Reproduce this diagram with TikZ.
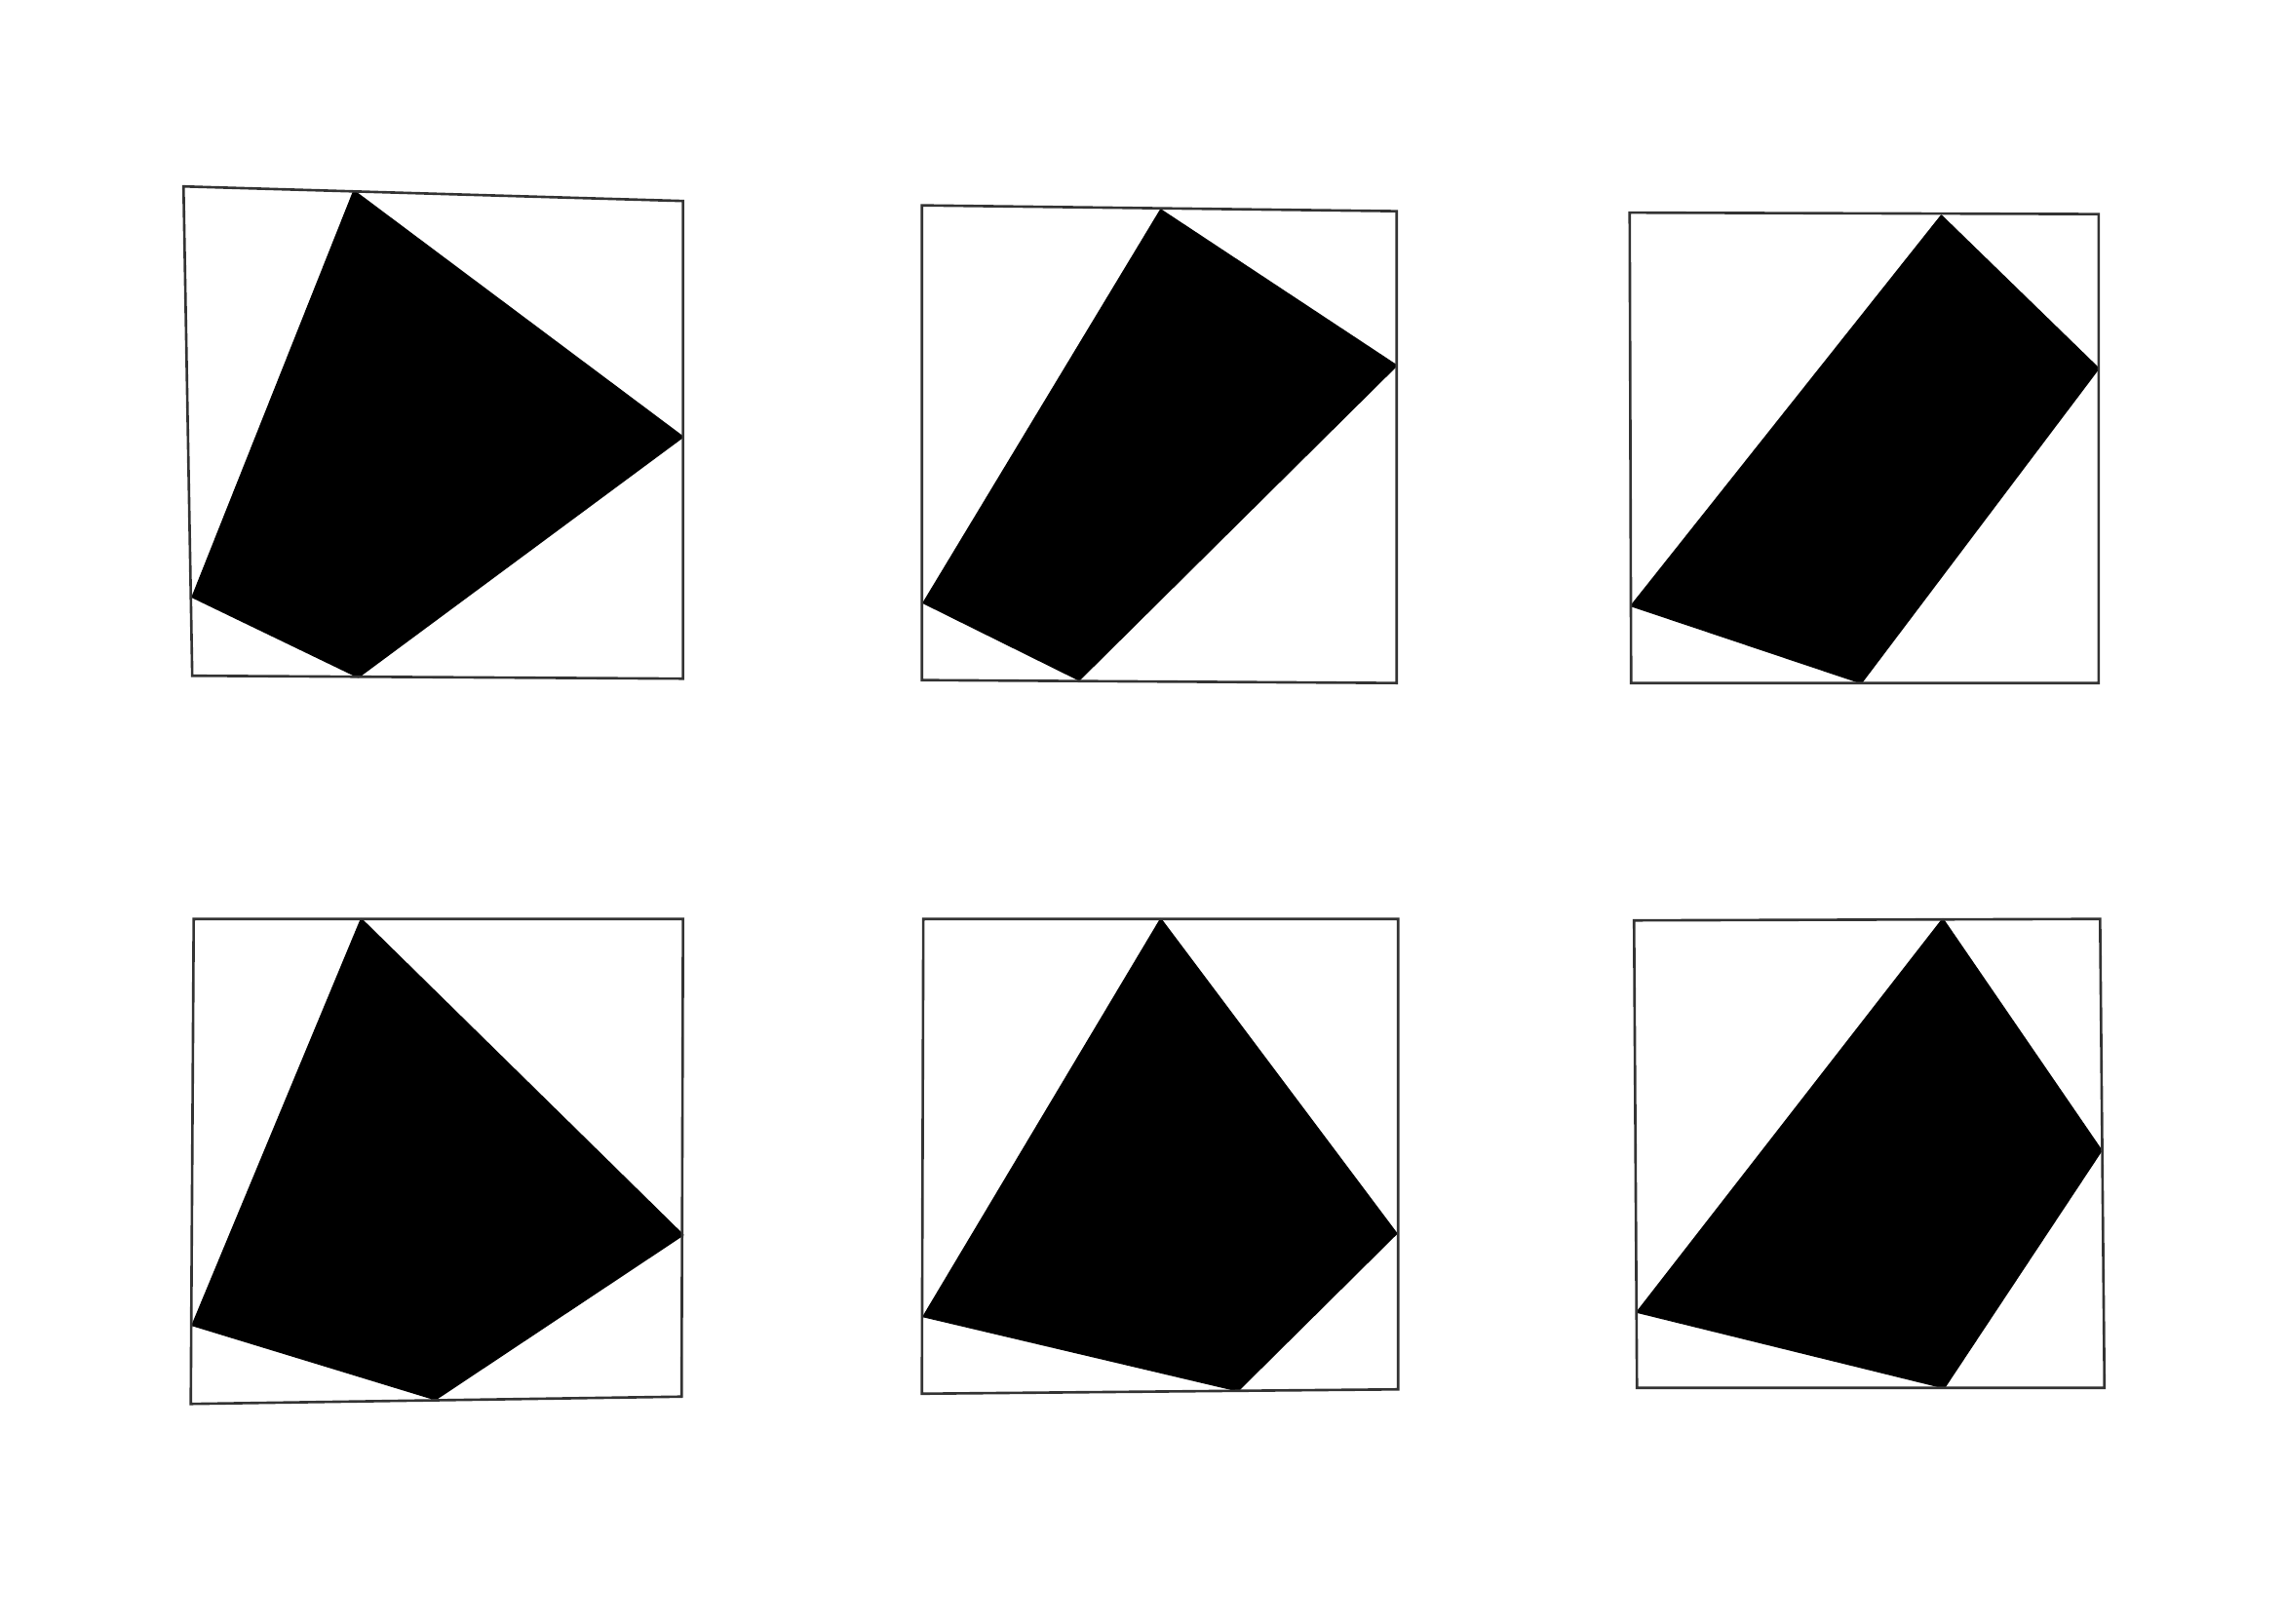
\documentclass[tikz,border=0pt]{standalone}
\begin{document}
\begin{tikzpicture}[x=0.01cm,y=-0.01cm,
  frame/.style={draw=black!80,line width=0.5pt,line join=miter},
  blackpoly/.style={fill=black,draw=black,line width=0.3pt,line join=round}]
\useasboundingbox[fill=white] (0,0) rectangle (1568.3,1114.5);
% box 1
\fill[blackpoly] (243,131) -- (469,300) -- (246,465) -- (132,410) -- cycle;
\draw[frame] (126,128) -- (469,138) -- (469,466) -- (132,464) -- cycle;
% box 2
\fill[blackpoly] (797,144) -- (959,251) -- (741,467) -- (634,414) -- cycle;
\draw[frame] (633,141) -- (959,145) -- (959,469) -- (633,467) -- cycle;
% box 3
\fill[blackpoly] (1333,148) -- (1441,253) -- (1278,469) -- (1120,416) -- cycle;
\draw[frame] (1119,146) -- (1441,147) -- (1441,469) -- (1120,469) -- cycle;
% box 4
\fill[blackpoly] (248,631) -- (469,848) -- (299,961) -- (132,910) -- cycle;
\draw[frame] (133,631) -- (469,631) -- (468,959) -- (131,964) -- cycle;
% box 5
\fill[blackpoly] (797,631) -- (959,847) -- (850,955) -- (634,904) -- cycle;
\draw[frame] (634,631) -- (960,631) -- (960,954) -- (633,957) -- cycle;
% box 6
\fill[blackpoly] (1334,631) -- (1443,790) -- (1335,953) -- (1124,901) -- cycle;
\draw[frame] (1122,632) -- (1442,631) -- (1445,953) -- (1124,953) -- cycle;
\end{tikzpicture}
\end{document}
